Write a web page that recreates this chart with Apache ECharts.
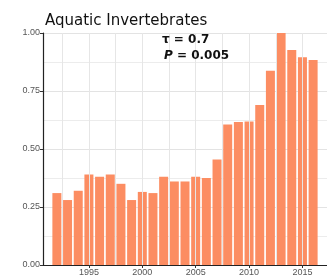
<!DOCTYPE html>
<html><head><meta charset="utf-8">
<script src="https://cdn.jsdelivr.net/npm/echarts@6/dist/echarts.min.js"></script>
<style>html,body{margin:0;padding:0;background:#fff}#c{width:327px;height:278px}</style>
</head><body><div id="c"></div>
<script>
const years = [1992,1993,1994,1995,1996,1997,1998,1999,2000,2001,2002,2003,2004,2005,2006,2007,2008,2009,2010,2011,2012,2013,2014,2015,2016];
const values = [0.31,0.28,0.32,0.39,0.38,0.39,0.35,0.28,0.315,0.31,0.38,0.36,0.36,0.38,0.375,0.455,0.606,0.616,0.618,0.69,0.837,1.0,0.927,0.895,0.884];
const xTickLabels = [1995,2000,2005,2010,2015];
const yTickLabels = ['0.00','0.25','0.50','0.75','1.00'];
const vGrid = [1992.5,1995,1997.5,2000,2002.5,2005,2007.5,2010,2012.5,2015,2017.5];

const chart = echarts.init(document.getElementById('c'));
const font = 'Liberation Sans, Arial, sans-serif';
const wide = 'DejaVu Sans, sans-serif';
chart.setOption({
  animation:false,
  backgroundColor:'#fff',
  title:{text:'Aquatic Invertebrates',left:40,top:9,textStyle:{fontFamily:wide,fontSize:15,fontWeight:'normal',color:'#111'}},
  grid:{left:43,right:0,top:33,bottom:13,containLabel:false},
  xAxis:{type:'value',min:1990.7,max:2017.3,
    axisLine:{show:true,lineStyle:{color:'#222',width:1.2}},
    axisTick:{show:true,customValues:xTickLabels,length:3,lineStyle:{color:'#333'}},
    axisLabel:{customValues:xTickLabels,fontFamily:font,fontSize:9,color:'#555',margin:3,formatter:v=>String(Math.round(v))},
    splitLine:{show:false}},
  yAxis:{type:'value',min:0,max:1,interval:0.25,
    axisLine:{show:true,lineStyle:{color:'#222',width:1.2}},
    axisTick:{show:true,length:3,lineStyle:{color:'#333'}},
    axisLabel:{fontFamily:font,fontSize:9,color:'#555',margin:3,formatter:v=>yTickLabels[Math.round(v/0.25)]},
    splitLine:{show:true,lineStyle:{color:'#e3e3e3',width:1}},
    minorTick:{show:false,splitNumber:2},
    minorSplitLine:{show:true,lineStyle:{color:'#ececec',width:1}}},
  series:[
    {type:'line',data:[],z:1,silent:true,
     markLine:{silent:true,symbol:'none',label:{show:false},
       lineStyle:{type:'solid',color:'#e6e6e6',width:1},
       data:vGrid.map(v=>({xAxis:v}))}},
    {type:'bar',z:3,barWidth:9,itemStyle:{color:'#fc8d62'},
     data:years.map((y,i)=>[y,values[i]])}
  ],
  graphic:[
    {type:'text',left:162,top:34,z:10,style:{text:'τ = 0.7',font:'bold 12px '+wide,fill:'#111'}},
    {type:'text',left:164,top:50,z:10,style:{text:'{i|P} = 0.005',font:'bold 12px '+wide,fill:'#111',
      rich:{i:{fontStyle:'italic',fontWeight:'bold',fontSize:12,fontFamily:wide,fill:'#111'}}}}
  ]
});
</script></body></html>
